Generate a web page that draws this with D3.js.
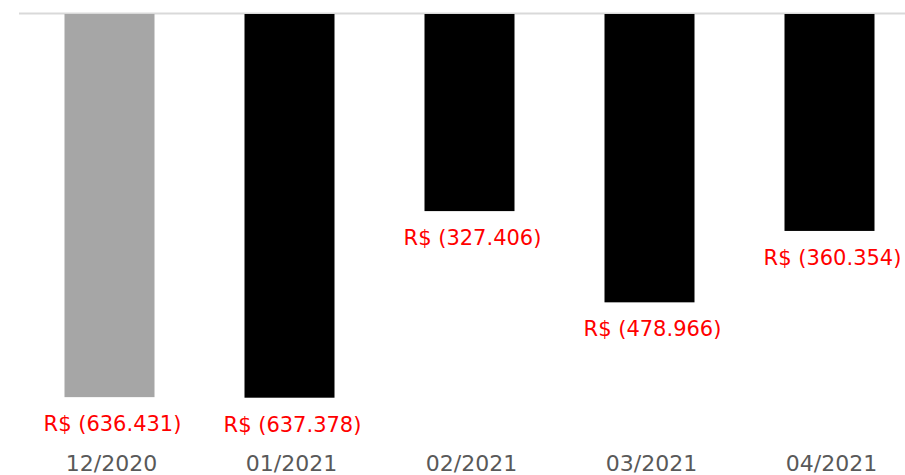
<!DOCTYPE html>
<html lang="pt-BR">
<head>
<meta charset="UTF-8">
<title>Resultado mensal</title>
<script src="https://d3js.org/d3.v7.min.js"></script>
<style>
    body { margin: 0; background: #fff; }
    text { font-family: "DejaVu Sans", sans-serif; }
</style>
</head>
<body>
<div id="chart"></div>
<script>
    // data
    const months = ["12/2020", "01/2021", "02/2021", "03/2021", "04/2021"];
    const results = [-636431, -637378, -327406, -478966, -360354];
    const barColors = ["#a6a6a6", "#000000", "#000000", "#000000", "#000000"];

    const width = 905, height = 475;

    const svg = d3.select("#chart").append("svg")
        .attr("width", width)
        .attr("height", height);

    const x = d3.scaleBand()
        .domain(months)
        .range([19.5, 919.5])
        .paddingInner(0.5)
        .paddingOuter(0.25);

    const y = d3.scaleLinear()
        .domain([0, -700000])
        .range([14, 435.4]);

    const br = d3.formatLocale({decimal: ",", thousands: ".", grouping: [3], currency: ["R$ ", ""]});
    const fmt = br.format(",d");
    const label = v => v < 0 ? `R$ (${fmt(-v)})` : `R$ ${fmt(v)}`;

    // zero line
    svg.append("line")
        .attr("x1", 19).attr("x2", width)
        .attr("y1", y(0) - 0.5).attr("y2", y(0) - 0.5)
        .attr("stroke", "#d9d9d9")
        .attr("stroke-width", 2);

    // bars
    svg.selectAll("rect.bar")
        .data(months)
        .enter().append("rect")
        .attr("class", "bar")
        .attr("x", d => x(d))
        .attr("y", y(0))
        .attr("width", x.bandwidth())
        .attr("height", (d, i) => y(results[i]) - y(0))
        .attr("fill", (d, i) => barColors[i]);

    // value labels
    svg.selectAll("text.val")
        .data(months)
        .enter().append("text")
        .attr("class", "val")
        .attr("x", d => x(d) + x.bandwidth() / 2 + 3)
        .attr("y", (d, i) => y(results[i]) + 34)
        .attr("text-anchor", "middle")
        .attr("fill", "#ff0000")
        .style("font-size", "21px")
        .text((d, i) => label(results[i]));

    // category axis
    const axis = svg.append("g")
        .attr("transform", "translate(0,471)")
        .call(d3.axisBottom(x).tickSize(0).tickPadding(0));
    axis.select(".domain").remove();
    axis.selectAll("text")
        .attr("dy", 0)
        .attr("x", 2)
        .attr("fill", "#595959")
        .style("font-size", "22px")
        .style("font-family", "'DejaVu Sans', sans-serif");
</script>
</body>
</html>
